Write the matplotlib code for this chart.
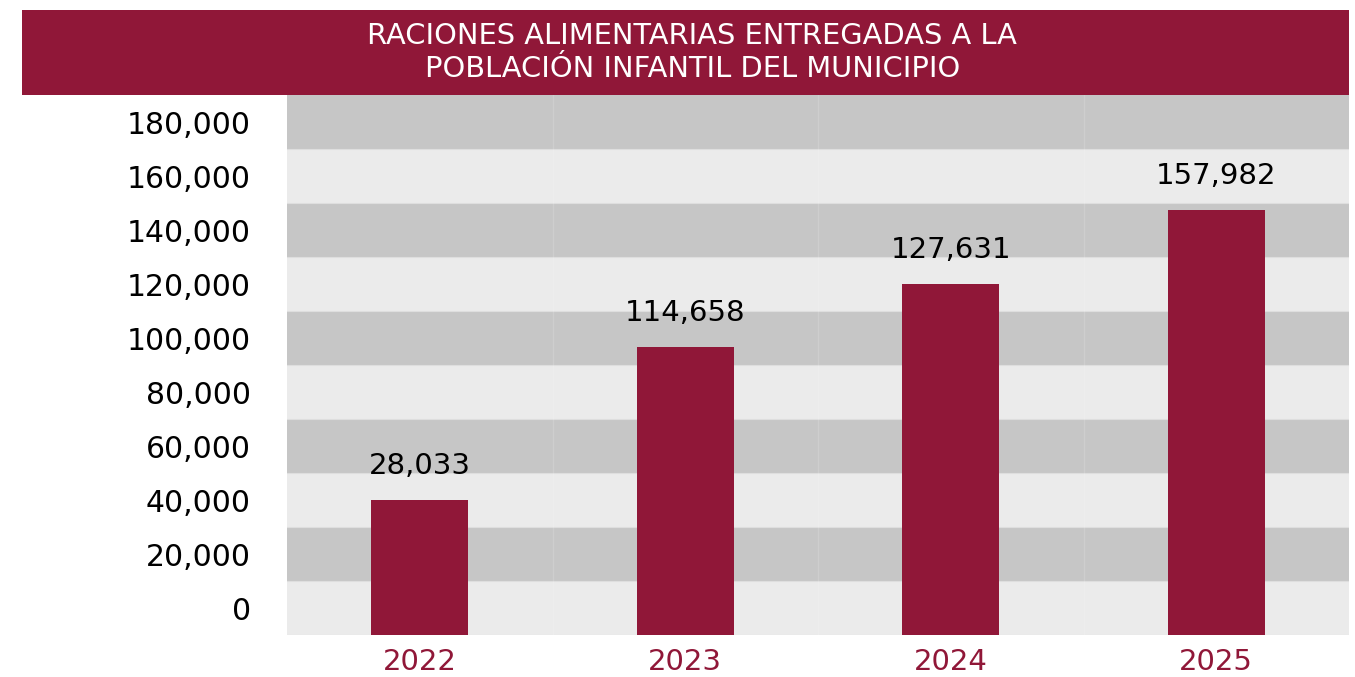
import numpy as np
import matplotlib
matplotlib.use("Agg")
import matplotlib.pyplot as plt
from matplotlib.patches import Rectangle

# data
years = ["2022", "2023", "2024", "2025"]
bar_tops = [40000, 96700, 120000, 147400]      # bar heights as drawn against the axis
label_values = [28033, 114658, 127631, 157982]  # numbers printed above the bars
y_ticks = [0, 20000, 40000, 60000, 80000, 100000, 120000, 140000, 160000, 180000]

title = "RACIONES ALIMENTARIAS ENTREGADAS A LA\nPOBLACIÓN INFANTIL DEL MUNICIPIO"

MAROON = "#901738"
DARK_BAND = "#c6c6c6"
LIGHT_BAND = "#ebebeb"

plt.rcParams["font.family"] = ["DejaVu Sans"]

W, H = 1355, 677
fig = plt.figure(figsize=(W / 100, H / 100), dpi=100)

# title banner
banner = fig.add_axes([22 / W, 1 - 95 / H, (1349 - 22) / W, 85 / H])
banner.set_axis_off()
banner.add_patch(Rectangle((0, 0), 1, 1, transform=banner.transAxes,
                           facecolor=MAROON, edgecolor="none"))
banner.text(0.505, 0.5, title, transform=banner.transAxes, ha="center", va="center",
            color="white", fontsize=20.8, linespacing=1.27)

# plot area
ax = fig.add_axes([287 / W, 1 - 635 / H, (1349 - 287) / W, 540 / H])
y_min, y_max = -10000, 190000
ax.set_ylim(y_min, y_max)
ax.set_xlim(-0.5, len(years) - 0.5)

# alternating horizontal bands
edges = np.arange(y_min, y_max, 20000)
for k, lo in enumerate(edges):
    ax.axhspan(lo, lo + 20000, facecolor=DARK_BAND if k % 2 else LIGHT_BAND,
               edgecolor="none", zorder=0)
    ax.axhline(lo, color="#dedede", lw=0.8, zorder=0.5)
for b in np.arange(0.5, len(years) - 0.5, 1):
    ax.axvline(b, color="white", lw=1, alpha=0.15, zorder=0.5)

x = np.arange(len(years))
heights = [t - y_min for t in bar_tops]
ax.bar(x, heights, bottom=y_min, width=0.366, color=MAROON, zorder=2)

for xi, top, val in zip(x, bar_tops, label_values):
    ax.annotate(f"{val:,}", (xi, top), xytext=(0, 19), textcoords="offset points",
                ha="center", va="baseline", fontsize=21, color="black")

ax.set_yticks(y_ticks)
ax.set_yticklabels([f"{v:,}" for v in y_ticks], fontsize=21.5, color="black")
ax.set_xticks(x)
ax.set_xticklabels(years, fontsize=21, color=MAROON)
ax.tick_params(axis="y", length=0, pad=26)
ax.tick_params(axis="x", length=0, pad=9)
for s in ax.spines.values():
    s.set_visible(False)

fig.savefig("out.png", dpi=100, facecolor="white")
